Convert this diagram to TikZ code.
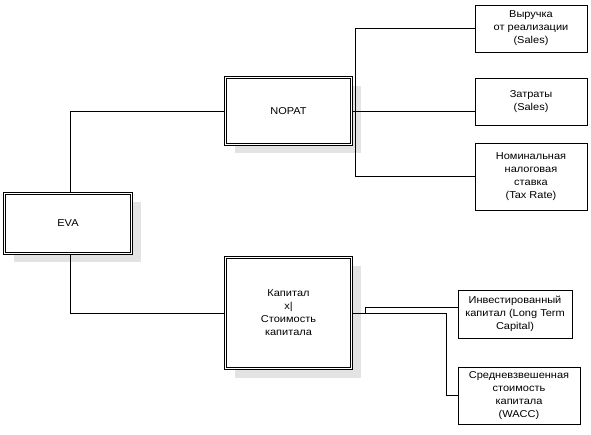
\documentclass[tikz,border=0pt]{standalone}
\usepackage{fontspec}
\setmainfont{Liberation Sans}[FakeStretch=1.1]
\usetikzlibrary{shadows}

\tikzset{
  mainbox/.style={draw, double, double distance=1.4pt, line width=0.7pt, fill=white,
    drop shadow={shadow xshift=9pt, shadow yshift=-9pt, fill=black!11, opacity=1},
    align=center, inner sep=0pt},
  subbox/.style={draw, line width=0.8pt, fill=white, align=center, inner sep=0pt},
  link/.style={line width=0.8pt}
}

\begin{document}
\begin{tikzpicture}[x=1pt, y=-1pt, font=\fontsize{10}{13}\selectfont]
        \useasboundingbox (0,0) rectangle (591,435);

        % main boxes
        \node[mainbox, minimum width=127, minimum height=60] (eva) at (68,223.5) {EVA};
        \node[mainbox, minimum width=126, minimum height=67] (nopat) at (288.5,111) {NOPAT};
        \node[mainbox, minimum width=126, minimum height=111] (kap) at (288.5,313)
            {Капитал\\x|\\Стоимость\\капитала};

        % factor boxes
        \node[subbox, minimum width=112, minimum height=47] (sales) at (531,28.5)
            {Выручка\\от реализации\\(Sales)};
        \node[subbox, minimum width=112, minimum height=47] (costs) at (531,101.5)
            {Затраты\\(Sales)};
        \node[subbox, minimum width=112, minimum height=67] (tax) at (531,176.5)
            {Номинальная\\налоговая\\ставка\\(Tax Rate)};
        \node[subbox, minimum width=114, minimum height=48] (invest) at (515,314)
            {Инвестированный\\капитал (Long Term\\Capital)};
        \node[subbox, minimum width=122, minimum height=57] (wacc) at (519,395.5)
            {Средневзвешенная\\стоимость\\капитала\\(WACC)};

        \coordinate (nbus) at (355,0);
        \coordinate (kbus) at (365,0);
        \coordinate (wbus) at (446,0);

        % connectors
        \draw[link] ([xshift=2pt]eva.north) |- (nopat.west);
        \draw[link] ([xshift=2pt]eva.south) |- (kap.west);

        \draw[link] (sales.west) -- (sales.west -| nbus) -- (tax.west -| nbus) -- (tax.west);
        \draw[link] (nopat.east) -- (nopat.east -| costs.west);

        \draw[link] (kap.east) -- (kap.east -| wbus) |- (wacc.west);
        \draw[link] (kap.east -| kbus) -- ++(0,-6) coordinate (kstep) -- (kstep -| invest.west);
    \end{tikzpicture}
\end{document}
